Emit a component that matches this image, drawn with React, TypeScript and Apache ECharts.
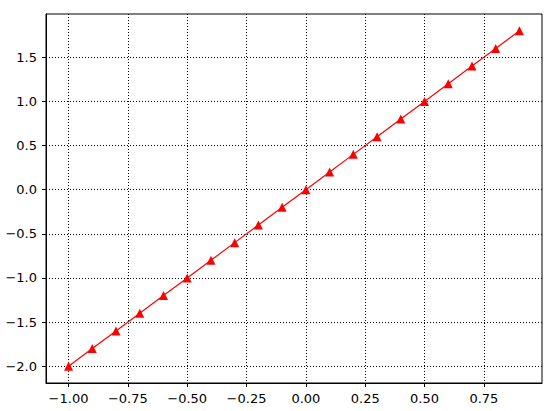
import React, { useEffect, useRef } from "react";
import * as echarts from "echarts";

const xValues = [-1.0, -0.9, -0.8, -0.7, -0.6, -0.5, -0.4, -0.3, -0.2, -0.1, 0.0, 0.1, 0.2, 0.3, 0.4, 0.5, 0.6, 0.7, 0.8, 0.9];
const yValues = [-2.0, -1.8, -1.6, -1.4, -1.2, -1.0, -0.8, -0.6, -0.4, -0.2, 0.0, 0.2, 0.4, 0.6, 0.8, 1.0, 1.2, 1.4, 1.6, 1.8];
const xTicks = [-1.0, -0.75, -0.5, -0.25, 0.0, 0.25, 0.5, 0.75];
const yTicks = [-2.0, -1.5, -1.0, -0.5, 0.0, 0.5, 1.0, 1.5];

const fmt = (v: number, d: number) => {
  const s = Math.abs(v).toFixed(d);
  return (v < -1e-9 ? "\u2212" : "") + s;
};

export default function App() {
  const ref = useRef<HTMLDivElement>(null);
  useEffect(() => {
    if (!ref.current) return;
    const chart = echarts.init(ref.current, null, { renderer: "svg" });
    const font = { fontFamily: "DejaVu Sans", fontSize: 13, color: "#000" };
    const grid = { show: true, lineStyle: { color: "#000", width: 1, type: [1, 2] as any } };
    chart.setOption({
      animation: false,
      backgroundColor: "#fff",
      grid: { left: 46, top: 14, width: 496, height: 369, show: true, borderColor: "#000", borderWidth: 1, backgroundColor: "transparent" },
      xAxis: {
        type: "value",
        min: -1.095,
        max: 0.995,
        axisLine: { show: true, onZero: false, lineStyle: { color: "#000" } },
        axisTick: { show: true, length: 4, inside: false, customValues: xTicks, lineStyle: { color: "#000" } },
        axisLabel: { ...font, margin: 9, customValues: xTicks, formatter: (v: number) => fmt(v, 2) },
        splitLine: grid,
      },
      yAxis: {
        type: "value",
        min: -2.19,
        max: 1.99,
        axisLine: { show: true, onZero: false, lineStyle: { color: "#000" } },
        axisTick: { show: true, length: 4, inside: false, customValues: yTicks, lineStyle: { color: "#000" } },
        axisLabel: { ...font, margin: 9, customValues: yTicks, formatter: (v: number) => fmt(v, 1) },
        splitLine: grid,
      },
      series: [
        {
          type: "line",
          data: xValues.map((x, i) => [x, yValues[i]]),
          symbol: "triangle",
          symbolSize: 9,
          showAllSymbol: true,
          lineStyle: { color: "#ff0000", width: 1.2 },
          itemStyle: { color: "#ff0000" },
          z: 5,
        },
      ],
    });
    return () => chart.dispose();
  }, []);
  return <div ref={ref} style={{ position: "absolute", left: 0, top: 0, width: 553, height: 411 }} />;
}
